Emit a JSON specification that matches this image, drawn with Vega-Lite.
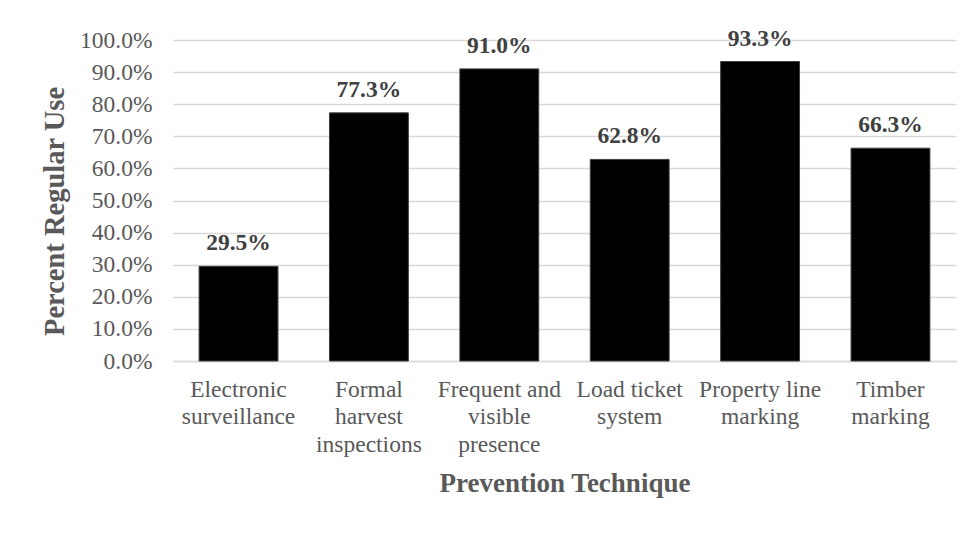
{
  "$schema": "https://vega.github.io/schema/vega-lite/v6.json",
  "autosize": {"type": "none"},
  "width": 783,
  "height": 321,
  "padding": {"left": 173, "top": 40, "right": 16, "bottom": 195},
  "background": "white",
  "data": {
    "values": [
      {"technique": "Electronic surveillance", "share": 0.295},
      {"technique": "Formal harvest inspections", "share": 0.773},
      {"technique": "Frequent and visible presence", "share": 0.91},
      {"technique": "Load ticket system", "share": 0.628},
      {"technique": "Property line marking", "share": 0.933},
      {"technique": "Timber marking", "share": 0.663}
    ]
  },
  "encoding": {
    "x": {
      "field": "technique",
      "type": "nominal",
      "sort": null,
      "scale": {"paddingInner": 0.395, "paddingOuter": 0.2},
      "axis": {
        "title": "Prevention Technique",
        "labelAngle": 0,
        "labelExpr": "datum.value == 'Electronic surveillance' ? ['Electronic', 'surveillance'] : datum.value == 'Formal harvest inspections' ? ['Formal', 'harvest', 'inspections'] : datum.value == 'Frequent and visible presence' ? ['Frequent and', 'visible', 'presence'] : datum.value == 'Load ticket system' ? ['Load ticket', 'system'] : datum.value == 'Property line marking' ? ['Property line', 'marking'] : ['Timber', 'marking']",
        "labelBaseline": "top",
        "labelPadding": 16,
        "labelLineHeight": 27.5,
        "labelFontSize": 23.5,
        "labelFont": "Liberation Serif",
        "labelColor": "#595959",
        "labelLimit": 200,
        "labelOverlap": false,
        "ticks": false,
        "domainColor": "#d9d9d9",
        "domainWidth": 1.5,
        "titleFont": "Liberation Serif",
        "titleFontSize": 27,
        "titleFontWeight": "bold",
        "titleColor": "#595959",
        "titleBaseline": "alphabetic",
        "titleY": 130
      }
    },
    "y": {
      "field": "share",
      "type": "quantitative",
      "scale": {"domain": [0, 1], "nice": false},
      "axis": {
        "title": "Percent Regular Use",
        "format": ".1%",
        "values": [0, 0.1, 0.2, 0.3, 0.4, 0.5, 0.6, 0.7, 0.8, 0.9, 1.0],
        "labelOverlap": false,
        "labelFontSize": 23.5,
        "labelFont": "Liberation Serif",
        "labelColor": "#595959",
        "labelPadding": 21,
        "ticks": false,
        "domain": false,
        "grid": true,
        "gridColor": "#d9d9d9",
        "gridWidth": 1.3,
        "titleFont": "Liberation Serif",
        "titleFontSize": 28.5,
        "titleFontWeight": "bold",
        "titleColor": "#595959",
        "titleAngle": -90,
        "titleBaseline": "alphabetic",
        "titleAlign": "center",
        "titleX": -110,
        "titleY": 171
      }
    }
  },
  "layer": [
    {
      "mark": {"type": "bar", "color": "#000000", "stroke": "#404040", "strokeWidth": 1}
    },
    {
      "mark": {
        "type": "text",
        "baseline": "alphabetic",
        "dy": -16,
        "font": "Liberation Serif",
        "fontSize": 23.5,
        "fontWeight": "bold",
        "color": "#404040"
      },
      "encoding": {
        "text": {"field": "share", "type": "quantitative", "format": ".1%"}
      }
    }
  ],
  "config": {
    "view": {"stroke": null}
  }
}
